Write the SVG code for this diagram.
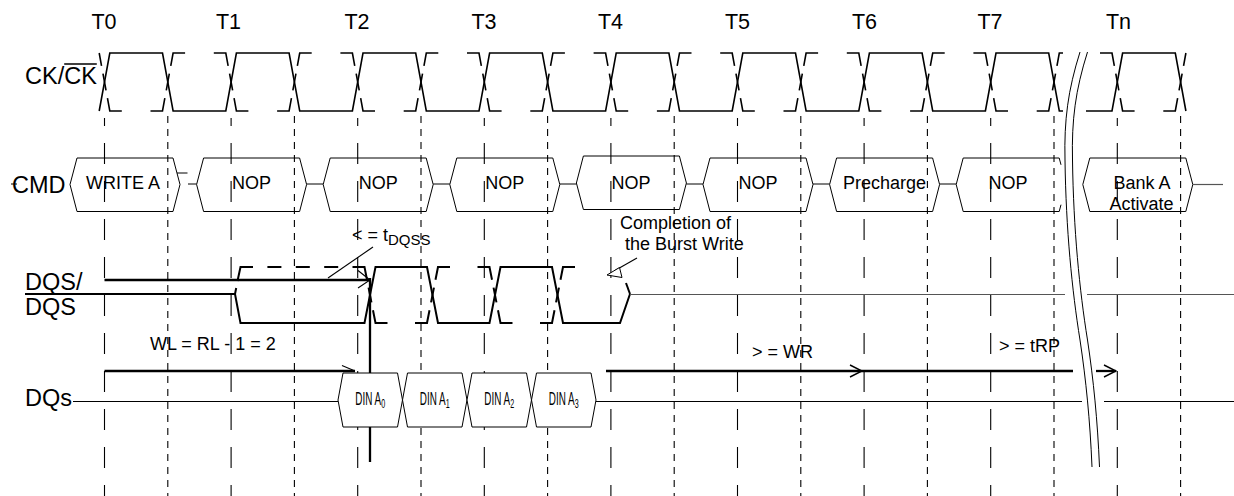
<svg xmlns="http://www.w3.org/2000/svg" width="1234" height="496" viewBox="0 0 1234 496">
<defs>
<style>
text{font-family:"Liberation Sans",Arial,Helvetica,sans-serif;fill:#000}
.lbl{font-size:23.5px}
.tk{font-size:21.5px;text-anchor:middle}
.cmd{font-size:18px;text-anchor:middle}
.note{font-size:18px}
.tl{stroke:#000;stroke-width:1.1;stroke-dasharray:21 17;stroke-dashoffset:13}
.hl{stroke:#000;stroke-width:1.1;stroke-dasharray:7 6}
.sig{fill:none;stroke:#000;stroke-width:1.6}
.dq{fill:none;stroke:#000;stroke-width:2}
.ckn{stroke-dasharray:25 28.7 25 8 16.961 8}
.dqn{stroke-dasharray:25 27.5 25 8 15.07 8}
.box{fill:none;stroke:#000;stroke-width:1}
.din{fill:#fff;stroke:#000;stroke-width:1}
.bold{fill:none;stroke:#000;stroke-width:2.3}
.thin{fill:none;stroke:#000;stroke-width:1.1}
.gray{fill:none;stroke:#555;stroke-width:1.2}
.brk{fill:none;stroke:#000;stroke-width:1}
</style>
<marker id="oa" markerUnits="userSpaceOnUse" markerWidth="14" markerHeight="14" viewBox="0 0 14 14" refX="13" refY="7" orient="auto"><path d="M1,1 L13,7 L1,13" fill="none" stroke="#000" stroke-width="1.4"/></marker>
</defs>
<rect width="1234" height="496" fill="#fff"/>

<g id="grid">
<line class="tl" x1="104.5" y1="118" x2="104.5" y2="496"/>
<line class="tl" x1="231.1" y1="118" x2="231.1" y2="496"/>
<line class="tl" x1="357.7" y1="118" x2="357.7" y2="496"/>
<line class="tl" x1="484.3" y1="118" x2="484.3" y2="496"/>
<line class="tl" x1="610.9" y1="118" x2="610.9" y2="496"/>
<line class="tl" x1="737.5" y1="118" x2="737.5" y2="496"/>
<line class="tl" x1="864.1" y1="118" x2="864.1" y2="496"/>
<line class="tl" x1="990.7" y1="118" x2="990.7" y2="496"/>
<line class="tl" x1="1117.3" y1="118" x2="1117.3" y2="496"/>
<line class="hl" x1="167.8" y1="116" x2="167.8" y2="496"/>
<line class="hl" x1="294.4" y1="116" x2="294.4" y2="496"/>
<line class="hl" x1="421" y1="116" x2="421" y2="496"/>
<line class="hl" x1="547.6" y1="116" x2="547.6" y2="496"/>
<line class="hl" x1="674.2" y1="116" x2="674.2" y2="496"/>
<line class="hl" x1="800.8" y1="116" x2="800.8" y2="496"/>
<line class="hl" x1="927.4" y1="116" x2="927.4" y2="496"/>
<line class="hl" x1="1054" y1="116" x2="1054" y2="496"/>
<line class="hl" x1="1180.6" y1="116" x2="1180.6" y2="496"/>
</g>

<g id="ticks">
<text class="tk" x="104" y="29">T0</text>
<text class="tk" x="228.5" y="29">T1</text>
<text class="tk" x="357" y="29">T2</text>
<text class="tk" x="484" y="29">T3</text>
<text class="tk" x="610.5" y="29">T4</text>
<text class="tk" x="737.5" y="29">T5</text>
<text class="tk" x="864.5" y="29">T6</text>
<text class="tk" x="990" y="29">T7</text>
<text class="tk" x="1118.5" y="29">Tn</text>
</g>

<g id="clock">
<text class="lbl" x="25" y="84">CK/CK</text>
<line x1="64.2" y1="64" x2="96.8" y2="64" stroke="#000" stroke-width="1.6"/>
<path class="sig" d="M99.2,111 L109.8,53 H162.5 L173.1,111 H225.8 L236.4,53 H289.1 L299.7,111 H352.4 L363,53 H415.7 L426.3,111 H479 L489.6,53 H542.3 L552.9,111 H605.6 L616.2,53 H668.9 L679.5,111 H732.2 L742.8,53 H795.5 L806.1,111 H858.8 L869.4,53 H922.1 L932.7,111 H985.4 L996,53 H1048.7 L1059.3,111 H1063 M1086,111 H1112 L1122.6,53 H1175.3 L1185.9,111"/>
<path class="sig ckn" stroke-dashoffset="65.7" d="M99.2,53 L109.8,111 H162.5 L173.1,53 H225.8 L236.4,111 H289.1 L299.7,53 H352.4 L363,111 H415.7 L426.3,53 H479 L489.6,111 H542.3 L552.9,53 H605.6 L616.2,111 H668.9 L679.5,53 H732.2 L742.8,111 H795.5 L806.1,53 H858.8 L869.4,111 H922.1 L932.7,53 H985.4 L996,111 H1048.7 L1059.3,53 H1063"/>
<path class="sig ckn" stroke-dashoffset="39.7" d="M1086,53 H1112 L1122.6,111 H1175.3 L1185.9,53"/>
</g>

<g id="cmd-label">
<text class="lbl" x="12" y="193">CMD</text>
<line x1="11" y1="184" x2="17" y2="184" stroke="#000" stroke-width="1"/>
</g>

<g id="cmd-write">
<polygon class="box" points="70,184.5 77,158 173,158 180,184.5 173,211.5 77,211.5"/>
<text class="cmd" x="123" y="188.5">WRITE A</text>
</g>
<g id="cmd-nop1">
<polygon class="box" points="196.6,184.5 203.6,158 299.6,158 306.6,184.5 299.6,211.5 203.6,211.5"/>
<text class="cmd" x="251.6" y="188.5">NOP</text>
</g>
<g id="cmd-nop2">
<polygon class="box" points="323.2,184.5 330.2,158 426.2,158 433.2,184.5 426.2,211.5 330.2,211.5"/>
<text class="cmd" x="378.2" y="188.5">NOP</text>
</g>
<g id="cmd-nop3">
<polygon class="box" points="449.8,184.5 456.8,158 552.8,158 559.8,184.5 552.8,211.5 456.8,211.5"/>
<text class="cmd" x="504.8" y="188.5">NOP</text>
</g>
<g id="cmd-nop4">
<polygon class="box" points="576.4,183 583.4,156 679.4,156 686.4,183 679.4,209.5 583.4,209.5"/>
<text class="cmd" x="631" y="188.5">NOP</text>
</g>
<g id="cmd-nop5">
<polygon class="box" points="703,184.5 710,158 806,158 813,184.5 806,211.5 710,211.5"/>
<text class="cmd" x="758" y="188.5">NOP</text>
</g>
<g id="cmd-pre">
<polygon class="box" points="829.6,184.5 836.6,158 932.6,158 939.6,184.5 932.6,211.5 836.6,211.5"/>
<text class="cmd" x="884.6" y="188.5">Precharge</text>
</g>
<g id="cmd-nop7">
<path class="box" d="M1061,164.8 L1059.2,158 H963.2 L956.2,184.5 L963.2,211.5 H1059.2 L1061,204.7"/>
<text class="cmd" x="1008" y="188.5">NOP</text>
</g>
<g id="cmd-act">
<polygon class="box" points="1082.8,184.5 1089.8,158 1185.8,158 1192.8,184.5 1185.8,211.5 1089.8,211.5"/>
<text class="cmd" x="1142" y="188.5">Bank A</text>
<text class="cmd" x="1141.5" y="210">Activate</text>
</g>

<g id="cmd-links">
<path class="box" d="M177,173 H187.5 M188,184 H196.6 M306.6,184 H323.2 M433.2,184 H449.8 M559.8,184 H576.4 M686.4,184 H703 M813,184 H829.6 M939.6,184 H956.2"/>
<path class="gray" d="M1192.8,184.5 H1223"/>
</g>

<g id="dqs">
<text class="lbl" x="25" y="290">DQS/</text>
<text class="lbl" x="25" y="315">DQS</text>
<line x1="25" y1="294" x2="78" y2="294" stroke="#000" stroke-width="1.8"/>
<path class="dq" d="M78,294 H235 L240.5,323 H364.5 L375.5,267 H427 L438,323 H489.5 L500.5,267 H552 L563,323 H620 L630,294"/>
<path class="dq" d="M235,294 L236.2,288 M237.5,281 L240.5,267 H253 M267.4,267 H281.4 M295.8,267 H309.8 M324.2,267 H338.2"/>
<path class="dq dqn" stroke-dashoffset="52.5" d="M352.5,267 H364.5 L375.5,323 H427 L438,267 H489.5 L500.5,323 H552 L563,267 H575"/>
<path class="dq" d="M626,283 L630,294"/>
<path class="gray" d="M630,294.5 H1065 M1087,294.5 H1234"/>
</g>

<g id="connectors">
<path class="bold" d="M104.5,280 H370"/>
<path class="thin" d="M358,270.5 L370,280 L358,288"/>
<path class="thin" d="M328,278 L373,247"/>
<path class="bold" d="M370,278 V462"/>
<path class="bold" d="M104.5,371 H355"/>
<path class="thin" d="M342,365.5 L355,371"/>
<path class="bold" d="M606,371 H862" marker-end="url(#oa)"/>
<path class="bold" d="M862,371 H1073"/>
<path class="bold" d="M1096,371 H1116" marker-end="url(#oa)"/>
<path class="thin" d="M637,258 L615,270.5"/>
<path d="M607,275 L619.5,267.5 L622,277.5 Z" fill="#fff" stroke="#000" stroke-width="1"/>
</g>

<g id="dqs-line">
<text class="lbl" x="25" y="405.5">DQs</text>
<path class="thin" d="M73,401.5 H338 M596,401.5 H1082 M1104,401.5 H1234"/>
</g>

<g id="din0">
<polygon class="din" points="338,400 343,373 397.5,373 402.5,400 397.5,427 343,427"/>
<text transform="translate(370.25,405) scale(0.55,1)" font-size="18" text-anchor="middle">DIN A<tspan font-size="13" dy="3">0</tspan></text>
</g>
<g id="din1">
<polygon class="din" points="402.5,400 407.5,373 462,373 467,400 462,427 407.5,427"/>
<text transform="translate(434.75,405) scale(0.55,1)" font-size="18" text-anchor="middle">DIN A<tspan font-size="13" dy="3">1</tspan></text>
</g>
<g id="din2">
<polygon class="din" points="467,400 472,373 526.5,373 531.5,400 526.5,427 472,427"/>
<text transform="translate(499.25,405) scale(0.55,1)" font-size="18" text-anchor="middle">DIN A<tspan font-size="13" dy="3">2</tspan></text>
</g>
<g id="din3">
<polygon class="din" points="531.5,400 536.5,373 591,373 596,400 591,427 536.5,427"/>
<text transform="translate(563.75,405) scale(0.55,1)" font-size="18" text-anchor="middle">DIN A<tspan font-size="13" dy="3">3</tspan></text>
</g>

<g id="notes">
<text class="note" x="352" y="241">&lt; = t<tspan font-size="15" dy="4">DQSS</tspan></text>
<text class="note" x="620" y="229">Completion of</text>
<text class="note" x="625" y="250">the Burst Write</text>
<text class="note" x="150" y="349.5">WL = RL - 1 = 2</text>
<text class="note" x="752" y="358">&gt; = WR</text>
<text class="note" x="999" y="352">&gt; = tRP</text>
</g>

<g id="break">
<path class="brk" d="M1080,52 C1068,90 1064,120 1065,160 C1066,230 1072,290 1080,340 C1086,380 1090,420 1092,467"/>
<path class="brk" transform="translate(7.5,0)" d="M1080,52 C1068,90 1064,120 1065,160 C1066,230 1072,290 1080,340 C1086,380 1090,420 1092,467"/>
</g>
</svg>
